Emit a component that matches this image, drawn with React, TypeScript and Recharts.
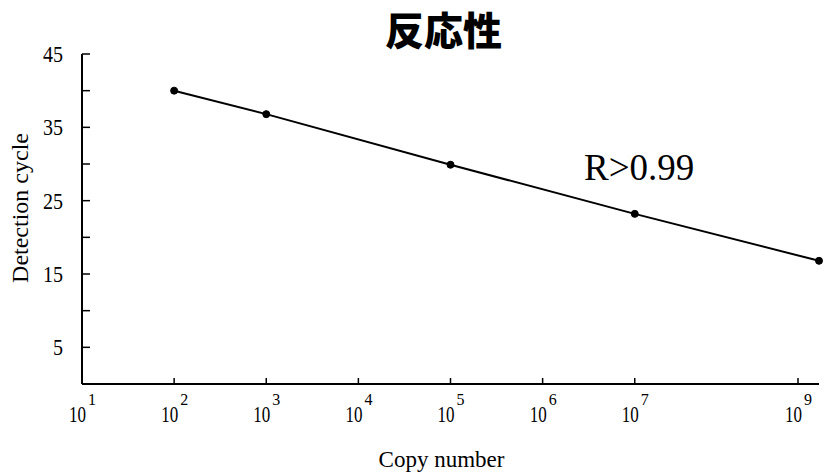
import { LineChart, Line, XAxis, YAxis, Label } from "recharts";

// values
const copyNumbers = [1e2, 1e3, 1e5, 1e7, 1e9];
const detectionCycles = [40.0, 36.8, 29.9, 23.2, 16.8];
const xTicks = [1e1, 1e2, 1e3, 1e4, 1e5, 1e6, 1e7, 1e8, 1e9];
const yTicks = [0, 5, 10, 15, 20, 25, 30, 35, 40, 45];
const yLabelTicks = [5, 15, 25, 35, 45];

const data = copyNumbers.map((c, i) => ({ copies: c, cycle: detectionCycles[i] }));

const SERIF = "'Liberation Serif', 'Times New Roman', serif";

function XTick(props: any) {
  const { x, y, payload } = props;
  const exp = Math.round(Math.log10(payload.value));
  return (
    <g>
      <line x1={x} y1={y} x2={x} y2={y - 6} stroke="#000" strokeWidth={1.5} />
      <text x={x - 13} y={y + 38} fontFamily={SERIF} fontSize={23} fill="#000">
        <tspan textLength={17} lengthAdjust="spacingAndGlyphs">
          10
        </tspan>
        <tspan dx={2} dy={-17} fontSize={16}>
          {exp}
        </tspan>
      </text>
    </g>
  );
}

function YTick(props: any) {
  const { x, y, payload } = props;
  const showLabel = yLabelTicks.includes(payload.value);
  const label = String(payload.value);
  return (
    <g>
      <line x1={x} y1={y} x2={x + 8} y2={y} stroke="#000" strokeWidth={1.5} />
      {showLabel && (
        <text
          x={x - 19}
          y={y + 8}
          textAnchor="end"
          fontFamily={SERIF}
          fontSize={24}
          textLength={label.length * 10}
          lengthAdjust="spacingAndGlyphs"
          fill="#000">
          {label}
        </text>
      )}
    </g>
  );
}

function XAxisTitle(props: any) {
  const { viewBox } = props;
  return (
    <text
      x={viewBox.x + viewBox.width / 2 - 9}
      y={viewBox.y + 83}
      textAnchor="middle"
      fontFamily={SERIF}
      fontSize={23}
      fill="#000">
      Copy number
    </text>
  );
}

function YAxisTitle() {
  return (
    <text
      x={28}
      y={208}
      transform="rotate(-90, 28, 208)"
      textAnchor="middle"
      fontFamily={SERIF}
      fontSize={24}
      fill="#000">
      Detection cycle
    </text>
  );
}

export default function App() {
  return (
    <div
      style={{
        position: "absolute",
        left: 0,
        top: 0,
        width: 838,
        height: 473,
        background: "#fff",
      }}>
      <LineChart
        width={838}
        height={473}
        data={data}
        margin={{ top: 54, right: 19, left: 22, bottom: 29 }}>
        <XAxis
          dataKey="copies"
          type="number"
          scale="log"
          domain={[1e1, 1e9]}
          ticks={xTicks}
          height={60}
          tickSize={0}
          tickMargin={0}
          tickLine={false}
          tick={<XTick />}
          axisLine={{ stroke: "#000", strokeWidth: 2 }}>
          <Label content={<XAxisTitle />} />
        </XAxis>
        <YAxis
          type="number"
          domain={[0, 45]}
          ticks={yTicks}
          width={60}
          tickSize={0}
          tickMargin={0}
          tickLine={false}
          tick={<YTick />}
          axisLine={{ stroke: "#000", strokeWidth: 2 }}>
          <Label content={<YAxisTitle />} />
        </YAxis>
        <Line
          dataKey="cycle"
          stroke="#000"
          strokeWidth={2}
          dot={{ r: 3.5, fill: "#000", stroke: "#000", strokeWidth: 1 }}
          isAnimationActive={false}
        />
      </LineChart>
      <div
        style={{
          position: "absolute",
          left: 385,
          top: 9,
          fontFamily: "'Noto Sans CJK JP', sans-serif",
          fontWeight: 900,
          fontSize: 39,
          lineHeight: 1,
          color: "#000",
          whiteSpace: "nowrap",
        }}>
        反応性
      </div>
      <div
        style={{
          position: "absolute",
          left: 584,
          top: 149,
          fontFamily: SERIF,
          fontSize: 37,
          lineHeight: 1,
          color: "#000",
          whiteSpace: "nowrap",
        }}>
        R&gt;0.99
      </div>
    </div>
  );
}
